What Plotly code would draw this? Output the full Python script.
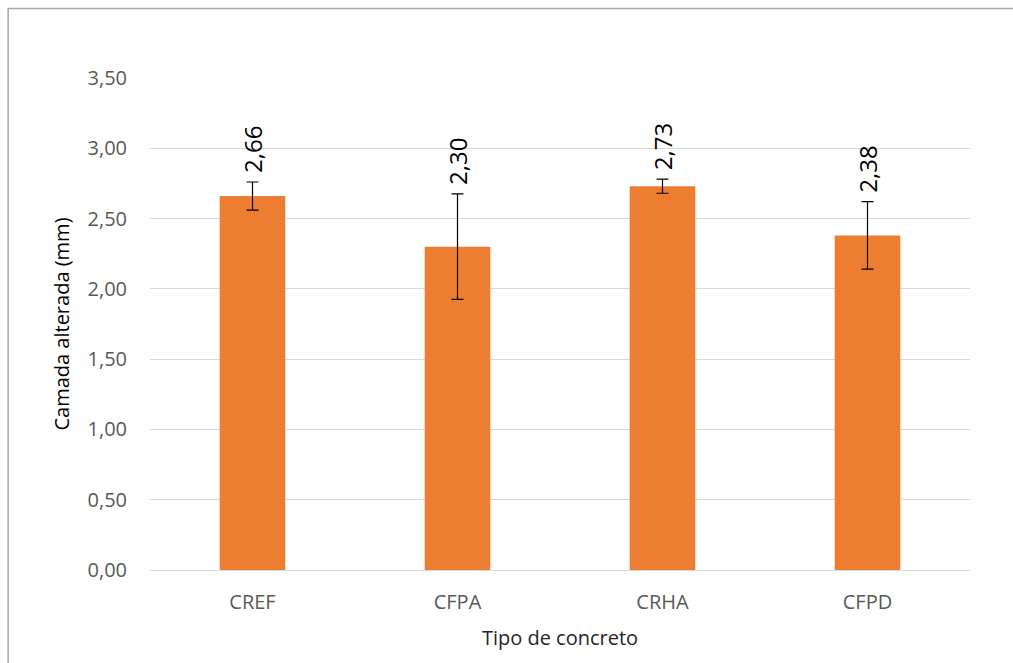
import plotly.graph_objects as go

# Camada alterada por tipo de concreto (média ± desvio)
categorias = ["CREF", "CFPA", "CRHA", "CFPD"]
camada_mm = [2.66, 2.30, 2.73, 2.38]
desvio_mm = [0.10, 0.375, 0.05, 0.24]
rotulos = ["2,66", "2,30", "2,73", "2,38"]
ticks_y = [0, 0.5, 1.0, 1.5, 2.0, 2.5, 3.0, 3.5]
ticks_y_txt = ["0,00", "0,50", "1,00", "1,50", "2,00", "2,50", "3,00", "3,50"]

FONTE = "Open Sans"
LARANJA = "#ED7D31"

fig = go.Figure()
fig.add_trace(go.Bar(
    x=categorias,
    y=camada_mm,
    width=0.32,
    marker=dict(color=LARANJA, line=dict(width=0)),
    error_y=dict(type="data", array=desvio_mm, visible=True,
                 color="#000000", thickness=1.2, width=6),
    hoverinfo="x+y",
))

# Rótulos de valor girados acima das barras de erro
for cat, v, d, txt in zip(categorias, camada_mm, desvio_mm, rotulos):
    fig.add_annotation(
        x=cat, y=v + d, text=txt, textangle=-90,
        showarrow=False, xanchor="center", yanchor="bottom", yshift=7,
        font=dict(family=FONTE, size=24, color="#000000"),
    )

# Moldura do gráfico
fig.add_shape(type="rect", xref="paper", yref="paper",
              x0=-0.173, x1=1.06, y0=-0.25, y1=1.1415,
              line=dict(color="#A6A6A6", width=1.5), fillcolor="rgba(0,0,0,0)",
              layer="below")

fig.update_layout(
    width=1013, height=663,
    margin=dict(l=150, r=43, t=78, b=93),
    paper_bgcolor="white", plot_bgcolor="white",
    font=dict(family=FONTE, color="#595959"),
    showlegend=False,
    bargap=0.68,
    xaxis=dict(
        tickfont=dict(size=20, color="#595959"),
        showgrid=False, showline=True, linecolor="#D9D9D9", linewidth=1.3,
        ticks="", ticklabelstandoff=14,
        title=dict(text="Tipo de concreto", standoff=16,
                   font=dict(size=20, color="#262626")),
    ),
    yaxis=dict(
        range=[0, 3.5],
        tickvals=ticks_y, ticktext=ticks_y_txt,
        tickfont=dict(size=20, color="#595959"),
        showgrid=True, gridcolor="#D9D9D9", gridwidth=1.3,
        zeroline=False, showline=False, ticks="", ticklabelstandoff=22,
        title=dict(text="Camada alterada (mm)", standoff=12,
                   font=dict(size=20, color="#000000")),
    ),
)

fig.write_html("out.html")
